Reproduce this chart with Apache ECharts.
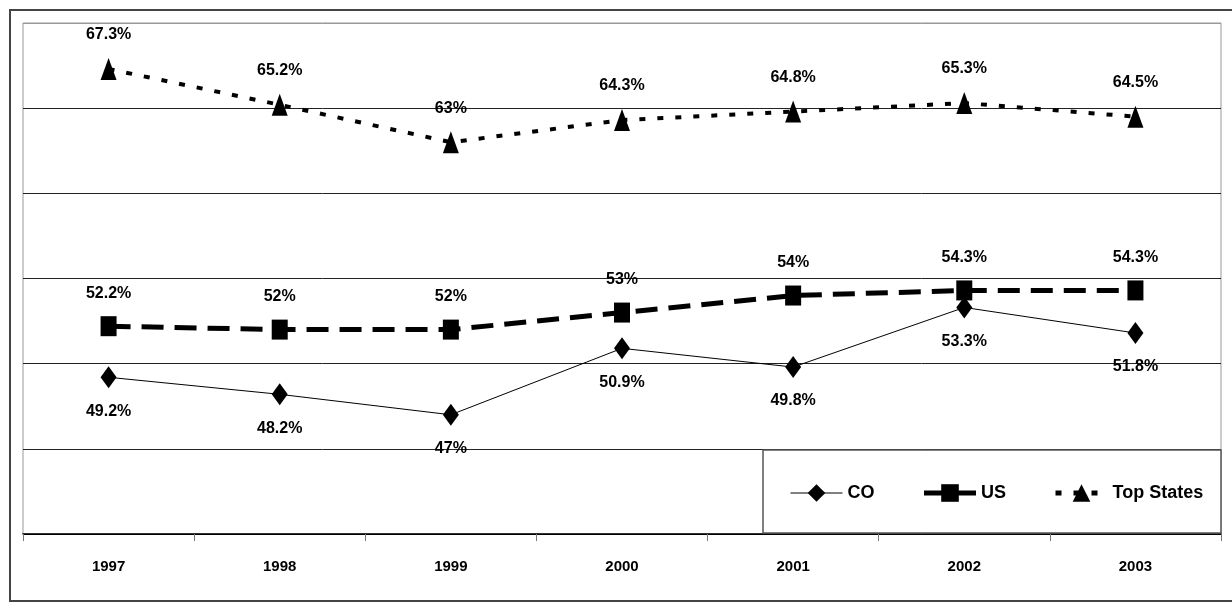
<!DOCTYPE html>
<html lang="en">
<head>
  <meta charset="UTF-8">
  <script src="https://cdn.jsdelivr.net/npm/echarts@6/dist/echarts.min.js"></script>
  <style>
    body { margin: 0; background: #ffffff; }
    #main { width: 1232px; height: 603px; }
  </style>
</head>
<body>
  <div id="main"></div>
  <script>
    // chart data
    var years = ['1997', '1998', '1999', '2000', '2001', '2002', '2003'];
    var coValues = [49.2, 48.2, 47, 50.9, 49.8, 53.3, 51.8];
    var usValues = [52.2, 52, 52, 53, 54, 54.3, 54.3];
    var topStatesValues = [67.3, 65.2, 63, 64.3, 64.8, 65.3, 64.5];

    var font = '"Liberation Sans", Arial, sans-serif';

    var chart = echarts.init(document.getElementById('main'));

    var labelStyle = {
      show: true,
      formatter: '{c}%',
      fontFamily: font,
      fontWeight: 'bold',
      fontSize: 16,
      color: '#000',
      distance: 15
    };

    chart.setOption({
      animation: false,
      backgroundColor: '#fff',
      grid: { left: 23, right: 11, top: 23, bottom: 69, show: true, borderColor: '#999', borderWidth: 1 },
      xAxis: {
        type: 'category',
        data: years,
        boundaryGap: true,
        axisLine: { lineStyle: { color: '#000', width: 1.5 } },
        axisTick: { show: true, length: 7, lineStyle: { color: '#777' } },
        axisLabel: { margin: 25, fontFamily: font, fontWeight: 'bold', fontSize: 15, color: '#000' }
      },
      yAxis: {
        type: 'value',
        min: 40,
        max: 70,
        interval: 5,
        axisLine: { show: false },
        axisTick: { show: false },
        axisLabel: { show: false },
        splitLine: { lineStyle: { color: ['#000', '#222', '#222', '#222', '#222', '#222', '#999'], width: 1 } }
      },
      legend: {
        left: 785,
        top: 479,
        itemWidth: 52,
        itemHeight: 22,
        itemGap: 47,
        textStyle: { fontFamily: font, fontWeight: 'bold', fontSize: 18, color: '#000' },
        data: [
          { name: 'CO', lineStyle: { width: 1, type: 'solid' } },
          { name: 'US', lineStyle: { width: 5, type: 'solid' } },
          { name: 'Top States', lineStyle: { width: 5, type: [6, 12] } }
        ]
      },
      graphic: [
        { type: 'rect', z: 0, shape: { x: 10, y: 10, width: 1240, height: 591 },
          style: { fill: 'none', stroke: '#444', lineWidth: 2 } },
        { type: 'rect', z: 3, shape: { x: 763, y: 450, width: 458, height: 83 },
          style: { fill: '#fff', stroke: '#555', lineWidth: 1.5 } }
      ],
      series: [
        {
          name: 'CO',
          type: 'line',
          data: coValues,
          symbol: 'diamond',
          symbolSize: [16, 22],
          itemStyle: { color: '#000' },
          lineStyle: { color: '#000', width: 1 },
          label: Object.assign({}, labelStyle, { position: 'bottom' })
        },
        {
          name: 'US',
          type: 'line',
          data: usValues,
          symbol: 'rect',
          symbolSize: [16, 20],
          itemStyle: { color: '#000' },
          lineStyle: { color: '#000', width: 5, type: [22, 11] },
          label: Object.assign({}, labelStyle, { position: 'top' })
        },
        {
          name: 'Top States',
          type: 'line',
          data: topStatesValues,
          symbol: 'triangle',
          symbolSize: [16, 22],
          itemStyle: { color: '#000' },
          lineStyle: { color: '#000', width: 4, type: [6, 12] },
          label: Object.assign({}, labelStyle, { position: 'top' })
        }
      ]
    });
  </script>
</body>
</html>
